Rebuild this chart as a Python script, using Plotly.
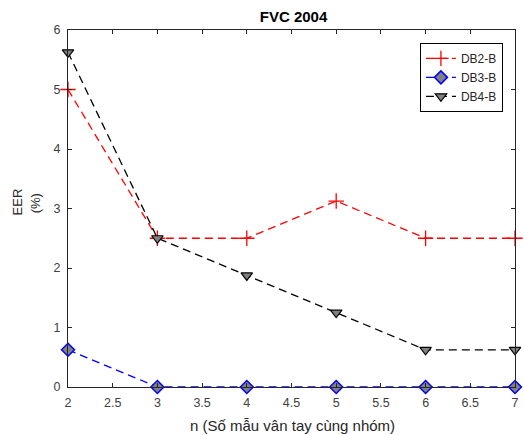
import plotly.graph_objects as go

# Number of fingerprint samples per group
n_samples = [2, 3, 4, 5, 6, 7]

# Equal error rate (%) per database
eer_db2 = [5.0, 2.5, 2.5, 3.125, 2.5, 2.5]
eer_db3 = [0.625, 0.0, 0.0, 0.0, 0.0, 0.0]
eer_db4 = [5.625, 2.5, 1.875, 1.25, 0.625, 0.625]

series_names = ["DB2-B", "DB3-B", "DB4-B"]

x_ticks = [2, 2.5, 3, 3.5, 4, 4.5, 5, 5.5, 6, 6.5, 7]
y_ticks = [0, 1, 2, 3, 4, 5, 6]

FONT = "Liberation Sans, Arial, Helvetica, sans-serif"
AX = "#262626"
DASH = "8px,5px"

fig = go.Figure()

fig.add_trace(go.Scatter(
    x=n_samples, y=eer_db2, name=series_names[0], mode="lines+markers",
    line=dict(color="#ff0000", width=1.3, dash=DASH),
    marker=dict(symbol="cross-thin", size=11, color="#ff0000",
                line=dict(color="#ff0000", width=1.3)),
    cliponaxis=False,
))
fig.add_trace(go.Scatter(
    x=n_samples, y=eer_db3, name=series_names[1], mode="lines+markers",
    line=dict(color="#0000ff", width=1.3, dash=DASH),
    marker=dict(symbol="diamond", size=10, color="#808080",
                line=dict(color="#0000ff", width=1.5)),
    cliponaxis=False,
))
fig.add_trace(go.Scatter(
    x=n_samples, y=eer_db4, name=series_names[2], mode="lines+markers",
    line=dict(color="#000000", width=1.3, dash=DASH),
    marker=dict(symbol="triangle-down", size=10, color="#808080",
                line=dict(color="#000000", width=1.2)),
    cliponaxis=False,
))

axis_common = dict(
    showline=True, linecolor=AX, linewidth=1, mirror="ticks",
    ticks="inside", ticklen=4, tickcolor=AX, showgrid=False, zeroline=False,
    tickfont=dict(family=FONT, size=12.5, color="#404040"),
)

fig.update_layout(
    width=524, height=435,
    margin=dict(l=68, r=5, t=30, b=48),
    paper_bgcolor="white", plot_bgcolor="white",
    font=dict(family=FONT, color="#262626"),
    title=dict(text="<b>FVC 2004</b>", x=(68 + 519) / 2 / 524, xanchor="center",
               y=1 - 17 / 435, yanchor="middle",
               font=dict(family=FONT, size=15, color="#000000")),
    xaxis=dict(range=[2, 7], tickvals=x_ticks,
               ticktext=[f"{v:g}" for v in x_ticks], ticklabelstandoff=4,
               **axis_common),
    yaxis=dict(range=[0, 6], tickvals=y_ticks, ticklabelstandoff=4,
               **axis_common),
    showlegend=True,
    legend=dict(x=0.973, xanchor="right", y=0.964, yanchor="top",
                bgcolor="white", bordercolor="#000000", borderwidth=1,
                font=dict(family=FONT, size=12, color="#262626"),
                tracegroupgap=0, itemwidth=30),
    annotations=[
        dict(text="n (Số mẫu vân tay cùng nhóm)", xref="paper", yref="paper",
             x=(295 - 68) / 451, y=-38 / 357, xanchor="center", yanchor="middle",
             showarrow=False, font=dict(family=FONT, size=15, color="#262626")),
        dict(text="EER", xref="paper", yref="paper",
             x=-(68 - 18) / 451, y=(387 - 202) / 357, xanchor="center",
             yanchor="middle", textangle=-90, showarrow=False,
             font=dict(family=FONT, size=13, color="#262626")),
        dict(text="(%)", xref="paper", yref="paper",
             x=-(68 - 35) / 451, y=(387 - 203) / 357, xanchor="center",
             yanchor="middle", textangle=-90, showarrow=False,
             font=dict(family=FONT, size=13, color="#262626")),
    ],
)

fig.write_html("out.html")
